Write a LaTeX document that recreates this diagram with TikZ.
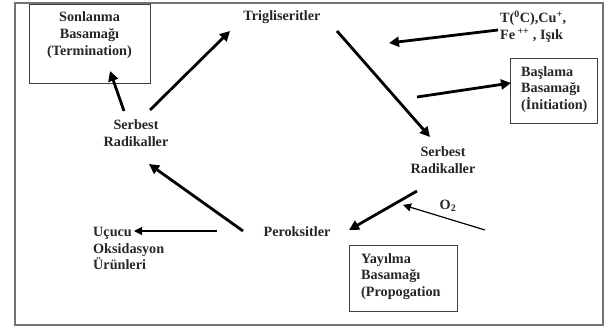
\documentclass[tikz,border=0pt]{standalone}
\usepackage{fontspec}
\setmainfont{Liberation Serif}
\usetikzlibrary{arrows.meta}
\tikzset{
  x=1pt, y=-1pt,
  lbl/.style={font=\bfseries\fontsize{14.2}{16.8}\selectfont, inner sep=0pt, text=black!85},
  stepframe/.style={draw=black!75, line width=1.3pt},
  outerframe/.style={draw=black!55, line width=2pt},
  thickarrow/.style={draw=black, line width=2.8pt, -{Triangle[length=10pt,width=10pt]}},
  thinarrow/.style={draw=black, line width=1.2pt, -{Triangle[length=8pt,width=8pt]}},
}
\begin{document}
\begin{tikzpicture}
\useasboundingbox (0,0) rectangle (605,329);
\fill[white] (0,0) rectangle (605,329);
\draw[outerframe] (15,3) rectangle (603,325);

% boxes
\node[stepframe, minimum width=121pt, minimum height=79pt, anchor=north west, inner sep=0pt] (sonbox) at (29,4) {};
\node[stepframe, minimum width=87pt, minimum height=65pt, anchor=north west, inner sep=0pt] (basbox) at (510,58) {};
\node[stepframe, minimum width=108pt, minimum height=66pt, anchor=north west, inner sep=0pt] (yaybox) at (349,245) {};

% texts
\node[lbl, align=center] (son) at (89.5,35) {Sonlanma\\Basamağı\\(Termination)};
\node[lbl] (tri) at (282,17) {Trigliseritler};
\node[lbl, align=left, anchor=west] (cat) at (500,26.5) {T(\textsuperscript{0}C),Cu\textsuperscript{+},\\Fe\,\textsuperscript{++} , Işık};
\node[lbl, align=left, anchor=west] (bas) at (521,89.5) {Başlama\\Basamağı\\(İnitiation)};
\node[lbl, align=center] (srl) at (136,133.5) {Serbest\\Radikaller};
\node[lbl, align=center] (srr) at (443,160) {Serbest\\Radikaller};
\node[lbl] (o2) at (448,206) {O\textsubscript{2}};
\node[lbl] (per) at (297,232) {Peroksitler};
\node[lbl, align=left, anchor=west] (ucu) at (93,248.5) {Uçucu\\Oksidasyon\\Ürünleri};
\node[lbl, align=left, anchor=west] (yay) at (361,276.5) {Yayılma\\Basamağı\\(Propogation};

% connector end points
\coordinate (a1s) at (150,110); \coordinate (a1e) at (230,31);
\coordinate (a2s) at (124,111); \coordinate (a2e) at (110,71);
\coordinate (a3s) at (337,31);  \coordinate (a3e) at (430,137);
\coordinate (a4s) at (498,30);  \coordinate (a4e) at (389,43);
\coordinate (a5s) at (417,97);  \coordinate (a5e) at (511,83);
\coordinate (a6s) at (417,191); \coordinate (a6e) at (349,230);
\coordinate (a7s) at (485,230); \coordinate (a7e) at (403,205);
\coordinate (a8s) at (243,231); \coordinate (a8e) at (149,164);
\coordinate (a9s) at (217,231); \coordinate (a9e) at (134,231);

\draw[thickarrow] (a1s) -- (a1e);
\draw[thickarrow] (a2s) -- (a2e);
\draw[thickarrow] (a3s) -- (a3e);
\draw[thickarrow] (a4s) -- (a4e);
\draw[thickarrow] (a5s) -- (a5e);
\draw[thickarrow] (a6s) -- (a6e);
\draw[thinarrow] (a7s) -- (a7e);
\draw[thickarrow] (a8s) -- (a8e);
\draw[thinarrow] (a9s) -- (a9e);
\end{tikzpicture}
\end{document}
